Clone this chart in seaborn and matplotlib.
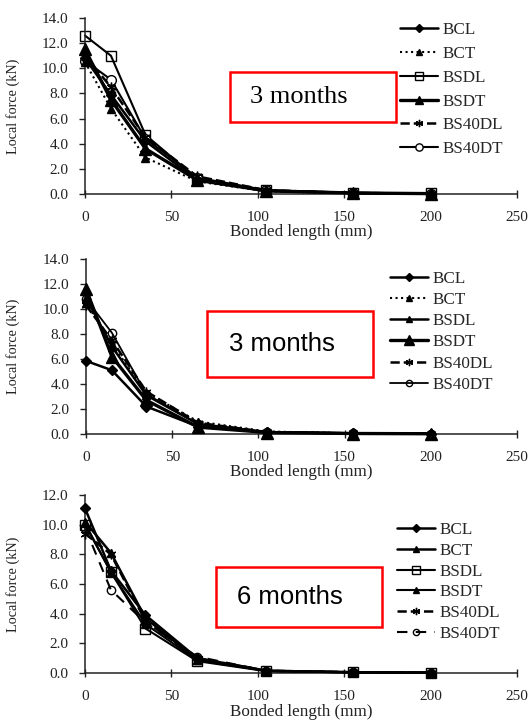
import matplotlib
matplotlib.use("Agg")
import matplotlib.pyplot as plt
import seaborn as sns
from matplotlib.patches import Rectangle

sns.set_theme(style="ticks")
plt.rcParams['font.family'] = ['Liberation Serif', 'DejaVu Serif']

# ---------------- data ----------------
x_mm = [0, 15, 35, 65, 105, 155, 200]
series_names = ["BCL", "BCT", "BSDL", "BSDT", "BS40DL", "BS40DT"]
x_ticks = [0, 50, 100, 150, 200, 250]

p1_bcl = [10.8, 7.9, 4.2, 1.1, 0.25, 0.08, 0.03]
p1_bct = [10.5, 6.8, 2.9, 1.0, 0.20, 0.06, 0.02]
p1_bsdl = [12.6, 11.0, 4.7, 1.2, 0.30, 0.10, 0.04]
p1_bsdt = [11.5, 7.5, 3.6, 1.1, 0.25, 0.08, 0.03]
p1_bs40dl = [11.0, 8.5, 4.5, 1.4, 0.30, 0.08, 0.03]
p1_bs40dt = [10.6, 9.1, 4.4, 1.3, 0.30, 0.08, 0.03]

p2_bcl = [5.85, 5.1, 2.2, 0.6, 0.15, 0.05, 0.02]
p2_bct = [10.5, 7.2, 3.3, 1.0, 0.20, 0.06, 0.03]
p2_bsdl = [10.9, 7.0, 3.1, 0.8, 0.15, 0.05, 0.02]
p2_bsdt = [11.6, 6.2, 2.7, 0.55, 0.12, 0.04, 0.02]
p2_bs40dl = [10.3, 7.5, 3.4, 0.9, 0.15, 0.05, 0.02]
p2_bs40dt = [10.8, 8.1, 3.2, 0.8, 0.15, 0.05, 0.02]

p3_bcl = [11.1, 6.9, 3.9, 1.0, 0.15, 0.05, 0.02]
p3_bct = [10.2, 8.1, 3.7, 0.9, 0.15, 0.05, 0.02]
p3_bsdl = [10.0, 6.8, 3.0, 0.8, 0.12, 0.04, 0.02]
p3_bsdt = [10.1, 6.8, 3.3, 0.85, 0.15, 0.05, 0.02]
p3_bs40dl = [9.4, 8.0, 3.5, 1.0, 0.15, 0.05, 0.02]
p3_bs40dt = [9.8, 5.6, 3.4, 1.1, 0.15, 0.05, 0.02]

panel_labels = ["3 months", "3 months", "6 months"]
y_max = [14.0, 14.0, 12.0]
x_label = "Bonded length (mm)"
y_label = "Local force (kN)"

# ---------------- styles ----------------
AST = (6, 2, 0)
styles_p1 = [
    dict(marker="D", ls="-", ms=5, mfc="black", lw=1.8),
    dict(marker="^", ls=":", ms=6, mfc="black", lw=1.5),
    dict(marker="s", ls="-", ms=7, mfc="none", lw=1.5),
    dict(marker="^", ls="-", ms=8, mfc="black", lw=2.4),
    dict(marker=AST, ls="--", ms=7, mfc="black", lw=1.8),
    dict(marker="o", ls="-", ms=7, mfc="white", lw=1.5),
]
styles_p2 = [
    dict(marker="D", ls="-", ms=5, mfc="black", lw=1.8),
    dict(marker="^", ls=":", ms=6, mfc="black", lw=1.5),
    dict(marker="^", ls="-", ms=6, mfc="black", lw=1.8),
    dict(marker="^", ls="-", ms=9, mfc="black", lw=2.4),
    dict(marker=AST, ls="--", ms=7, mfc="black", lw=1.8),
    dict(marker="o", ls="-", ms=6, mfc="none", lw=1.3),
]
styles_p3 = [
    dict(marker="D", ls="-", ms=5, mfc="black", lw=1.8),
    dict(marker="^", ls="-", ms=6, mfc="black", lw=1.8),
    dict(marker="s", ls="-", ms=7, mfc="none", lw=1.5),
    dict(marker="^", ls="-", ms=6, mfc="black", lw=1.5),
    dict(marker=AST, ls="--", ms=7, mfc="black", lw=1.8),
    dict(marker="o", ls=(0, (5, 4)), ms=6, mfc="none", lw=1.5),
]

panels = [
    ([p1_bcl, p1_bct, p1_bsdl, p1_bsdt, p1_bs40dl, p1_bs40dt], styles_p1),
    ([p2_bcl, p2_bct, p2_bsdl, p2_bsdt, p2_bs40dl, p2_bs40dt], styles_p2),
    ([p3_bcl, p3_bct, p3_bsdl, p3_bsdt, p3_bs40dl, p3_bs40dt], styles_p3),
]

W, H = 531, 725
fig = plt.figure(figsize=(W / 100, H / 100), dpi=100)

# axes pixel boxes: left, top, right, bottom
ax_px = [(85, 18, 517, 194), (86, 259, 517, 434), (85, 495, 517, 673)]
xlabel_top = [224, 464, 704]
legend_px = [(400, 22, 0.46), (390, 271, 0.30), (397, 522, 0.28)]
box_px = [(230, 72, 396, 122, 250, 'Liberation Serif', 19),
          (207, 311, 373, 377, 229, 'Liberation Sans', 18.5),
          (216, 567, 382, 627, 237, 'Liberation Sans', 18.5)]

for i, (data, styles) in enumerate(panels):
    l, t, r, b = ax_px[i]
    ax = fig.add_axes([l / W, 1 - b / H, (r - l) / W, (b - t) / H])
    handles = []
    for name, vals, st in zip(series_names, data, styles):
        z = 3 if st["mfc"] == "black" else 2.5
        sns.lineplot(x=x_mm, y=vals, ax=ax, color="black", marker=st["marker"],
                     linestyle=st["ls"], markersize=st["ms"], markerfacecolor=st["mfc"],
                     mec="black", mew=1.0, linewidth=st["lw"], clip_on=False,
                     label=name, legend=False, zorder=z)
        handles.append(ax.get_lines()[-1])
    ax.set_xlim(0, 250)
    ax.set_ylim(0, y_max[i])
    ax.set_xticks(x_ticks)
    ax.set_yticks([v * 2.0 for v in range(int(y_max[i] / 2) + 1)])
    ax.yaxis.set_major_formatter(matplotlib.ticker.FormatStrFormatter("%.1f"))
    sns.despine(ax=ax)
    for sp in ["left", "bottom"]:
        ax.spines[sp].set_color("#222222")
        ax.spines[sp].set_linewidth(1.1)
    ax.tick_params(axis="x", direction="inout", length=6, width=1.0, pad=9,
                   labelsize=11, colors="#222222")
    ax.tick_params(axis="y", direction="out", length=4, width=1.0, pad=8,
                   labelsize=11, colors="#222222")
    ax.set_xlabel(x_label, fontsize=12.3, color="#222222")
    ax.set_ylabel(y_label, fontsize=10.3, color="#222222")
    ax.xaxis.set_label_coords(0.5, -(xlabel_top[i] - b) / (b - t))
    ax.yaxis.set_label_coords((20 - l) / (r - l), 0.5)
    ax.set_facecolor("white")

    lx, ly, lsp = legend_px[i]
    fig.legend(handles=handles, labels=series_names, loc="upper left",
               bbox_to_anchor=(lx / W, 1 - ly / H), frameon=False,
               fontsize=12.3, handlelength=2.2, handletextpad=0.3,
               labelspacing=lsp, borderpad=0, borderaxespad=0, markerscale=0.75)

    bx0, by0, bx1, by1, tx, fam, fs = box_px[i]
    fig.patches.append(Rectangle((bx0 / W, 1 - by1 / H), (bx1 - bx0) / W, (by1 - by0) / H,
                                 transform=fig.transFigure, fill=False,
                                 edgecolor="#ff0000", linewidth=1.8))
    fig.text(tx / W, 1 - ((by0 + by1) / 2) / H, panel_labels[i], ha="left", va="center",
             fontsize=fs, family=fam, color="black")

fig.savefig("out.png", dpi=100, facecolor="white")
